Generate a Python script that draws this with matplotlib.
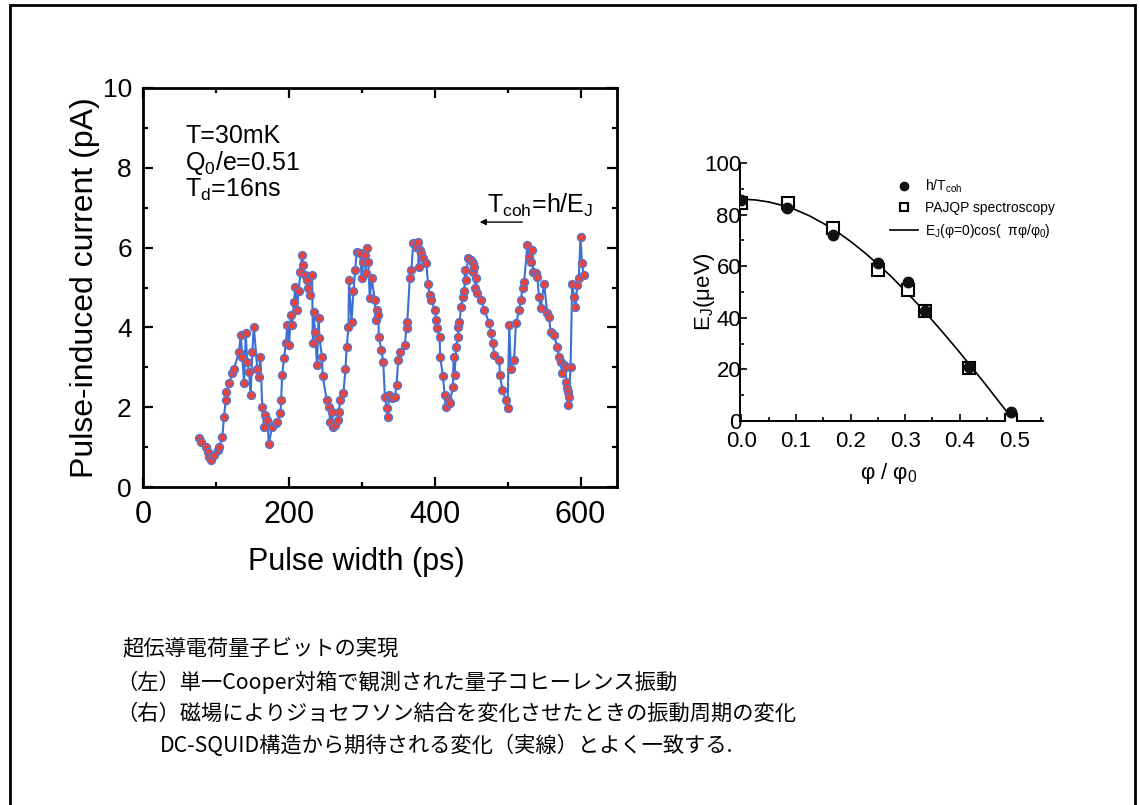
import matplotlib
matplotlib.use("Agg")
import matplotlib.pyplot as plt
from matplotlib.patches import Rectangle
from matplotlib.ticker import MultipleLocator, FormatStrFormatter

plt.rcParams["font.family"] = ["Liberation Sans", "DejaVu Sans"]
plt.rcParams["mathtext.fontset"] = "custom"
plt.rcParams["mathtext.rm"] = "Liberation Sans"
plt.rcParams["mathtext.it"] = "Liberation Sans:italic"

# left panel: pulse width (ps) vs pulse-induced current (pA)
pulse_width = [
    77.3, 79.5, 86.4, 88.6, 90.9, 93.2, 97.7, 102.3, 104.5, 109, 111, 113.6, 114.5,
    118, 122.7, 125, 131.8, 134, 136.4, 138.6, 140.9, 143, 145.5, 147.7, 150, 152,
    156.8, 159, 161, 163.6, 165.9, 168, 170.5, 172.7, 177, 181.8, 184, 188.6, 189.5,
    190.9, 193.5, 196, 198, 200.5, 202.5, 204.5, 207, 209, 211, 213.5, 216, 218,
    220, 222.7, 225, 226.5, 229.5, 232, 233, 234, 236, 238.6, 240.9, 242, 245.5,
    246.5, 252, 254.5, 257, 259, 261, 263, 268, 268.5, 270.5, 275, 277.7, 279.5,
    281.8, 282.5, 286, 288.6, 290.9, 293, 297.7, 300, 302, 304.5, 305.5, 306.8, 309,
    311, 313.6, 318, 319, 320.5, 322.7, 323.5, 327, 329.5, 331.8, 334, 336, 337,
    340.9, 345.5, 347.7, 350, 352, 359, 361.4, 362.5, 365.9, 368.2, 370.5, 375,
    377.3, 378, 379.5, 381.8, 384, 388.6, 390.9, 393, 395.5, 400, 402, 403, 406.8,
    407.5, 411.4, 413.6, 415.9, 418, 420.5, 425, 426, 427.3, 429.5, 431.8, 432.5,
    434, 436.4, 438.6, 440.9, 441.5, 443, 445.5, 450, 452.3, 453, 454.5, 455.5,
    456.8, 458, 463.6, 468, 475, 477.3, 479.5, 481.8, 488.6, 489.5, 493, 497.7, 500,
    502.3, 504.5, 509, 511.4, 515.9, 518, 520.5, 522.7, 527.3, 529.5, 531.8, 534,
    535, 538.6, 540.9, 543, 545.5, 550, 554.5, 556.8, 559, 563.6, 568, 570.5, 572.7,
    575, 577.3, 579.5, 580.5, 581.8, 582.5, 583, 584, 586.4, 588.6, 590.9, 593,
    595.5, 597.7, 600, 602, 604.5,
]
current = [
    1.22, 1.14, 1.01, 0.89, 0.76, 0.68, 0.80, 0.93, 1.01, 1.26, 1.76, 2.18, 2.39,
    2.60, 2.85, 2.97, 3.39, 3.81, 3.27, 2.60, 3.85, 3.14, 2.89, 2.31, 3.39, 4.02,
    2.97, 2.76, 3.27, 2.01, 1.51, 1.80, 1.68, 1.09, 1.51, 1.60, 1.64, 1.85, 2.18,
    2.81, 3.23, 3.60, 4.06, 3.56, 4.31, 4.06, 4.64, 5.02, 4.44, 4.90, 5.40, 5.81,
    5.56, 5.31, 5.19, 4.98, 4.81, 5.31, 3.60, 4.39, 3.89, 3.06, 4.23, 3.73, 3.27,
    2.77, 2.18, 2.01, 1.64, 1.89, 1.51, 1.55, 1.68, 1.89, 2.18, 2.35, 2.97, 3.52,
    4.02, 5.19, 4.14, 4.90, 5.44, 5.90, 5.86, 5.23, 5.65, 5.81, 5.36, 5.98, 5.65,
    4.73, 5.23, 4.69, 4.19, 4.44, 4.31, 3.77, 3.43, 3.14, 2.26, 1.97, 1.76, 2.31,
    2.22, 2.26, 2.56, 3.18, 3.39, 3.56, 3.98, 4.14, 5.23, 5.44, 6.11, 6.02,
    6.15, 5.52, 5.94, 5.86, 5.73, 5.61, 5.10, 4.81, 4.69, 4.44, 4.19, 3.98, 3.77,
    3.27, 2.77, 2.31, 2.01, 2.18, 2.10, 2.51, 3.27, 2.81, 3.52, 3.77, 4.02,
    4.14, 4.52, 4.77, 4.90, 5.44, 5.19, 5.73, 5.69, 5.61, 5.40, 5.52, 4.98,
    5.23, 4.85, 4.69, 4.44, 4.10, 3.85, 3.60, 3.31, 3.18, 2.81, 2.43, 2.18, 1.97,
    4.06, 2.97, 3.18, 4.10, 4.44, 4.69, 4.98, 5.15, 6.07, 5.77, 5.65, 5.94,
    5.40, 5.36, 5.27, 4.77, 4.48, 5.10, 4.35, 4.27, 3.89, 3.81, 3.52, 3.27, 3.14,
    2.85, 3.06, 3.02, 2.64, 2.47, 2.39, 2.06, 2.26, 3.02, 5.10, 4.77, 4.52,
    5.06, 5.23, 6.27, 5.61, 5.31,
]

# right panel: E_J vs flux
phi_coh = [0.0, 0.083, 0.167, 0.25, 0.306, 0.337, 0.418, 0.495]
ej_coh = [85.7, 82.4, 72.1, 61.1, 54.0, 42.5, 21.0, 3.6]
phi_pajqp = [0.0, 0.085, 0.167, 0.25, 0.306, 0.337, 0.418, 0.495]
ej_pajqp = [84.4, 84.4, 74.7, 58.5, 50.8, 42.5, 20.4, 0.3]
phi_fit = [0.0, 0.025, 0.05, 0.075, 0.1, 0.125, 0.15, 0.175, 0.2, 0.225, 0.25,
           0.275, 0.3, 0.325, 0.35, 0.375, 0.4, 0.425, 0.45, 0.475, 0.5]
ej_fit = [86.0, 85.7, 84.9, 83.6, 81.8, 79.5, 76.6, 73.4, 69.6, 65.4, 60.8,
          55.9, 50.5, 44.9, 39.0, 32.9, 26.6, 20.1, 13.5, 6.7, 0.0]

caption = [
    "超伝導電荷量子ビットの実現",
    "（左）単一Cooper対箱で観測された量子コヒーレンス振動",
    "（右）磁場によりジョセフソン結合を変化させたときの振動周期の変化",
    "DC-SQUID構造から期待される変化（実線）とよく一致する.",
]

fig = plt.figure(figsize=(11.4, 8.05), dpi=100)
fig.patch.set_facecolor("white")

# ---- left panel
ax = fig.add_axes([0.1254, 0.395, 0.4158, 0.4957])
ax.plot(pulse_width, current, "-o", color="#3a6fd4", lw=1.5,
        ms=5.8, mfc="#e8433c", mec="#4a78d8", mew=0.9)
ax.set_xlim(0, 650)
ax.set_ylim(0, 10)
ax.xaxis.set_major_locator(MultipleLocator(200))
ax.xaxis.set_minor_locator(MultipleLocator(100))
ax.yaxis.set_major_locator(MultipleLocator(2))
ax.yaxis.set_minor_locator(MultipleLocator(1))
ax.tick_params(which="both", direction="in", top=True, right=True, width=1.6)
ax.tick_params(which="major", length=7)
ax.tick_params(which="minor", length=3.5)
ax.tick_params(axis="x", labelsize=22, pad=9)
ax.tick_params(axis="y", labelsize=19, pad=8)
for s in ax.spines.values():
    s.set_linewidth(2)
ax.set_xlabel("Pulse width (ps)", fontsize=22)
ax.xaxis.set_label_coords(0.45, -0.15)
ax.set_ylabel("Pulse-induced current (pA)", fontsize=23)
ax.yaxis.set_label_coords(-0.09, 0.5)

ax.text(58, 8.8, "T=30mK", fontsize=18, va="center")
ax.text(58, 8.12, r"Q$_\mathregular{0}$/e=0.51", fontsize=18, va="center")
ax.text(58, 7.44, r"T$_\mathregular{d}$=16ns", fontsize=18, va="center")
ax.text(472, 7.05, r"T$_\mathregular{coh}$=h/E$_\mathregular{J}$", fontsize=18,
        va="center")
ax.annotate("", xy=(458, 6.64), xytext=(524, 6.64),
            arrowprops=dict(arrowstyle="-|>", color="black", lw=1.0,
                            mutation_scale=9))

# ---- right panel
ax2 = fig.add_axes([0.649, 0.477, 0.266, 0.3205])
ax2.plot(phi_fit, ej_fit, "-", color="black", lw=1.2,
         label=r"E$_\mathregular{J}$(φ=0)cos(  πφ/φ$_\mathregular{0}$)")
ax2.plot(phi_pajqp, ej_pajqp, "s", ms=8, mfc="white", mec="black", mew=1.5,
         label="PAJQP spectroscopy", zorder=3)
ax2.plot(phi_coh, ej_coh, "o", ms=7.5, color="#111111",
         label=r"h/T$_\mathregular{coh}$", zorder=4)
ax2.set_xlim(-0.003, 0.553)
ax2.set_ylim(0, 100)
ax2.xaxis.set_major_locator(MultipleLocator(0.1))
ax2.xaxis.set_minor_locator(MultipleLocator(0.05))
ax2.yaxis.set_major_locator(MultipleLocator(20))
ax2.yaxis.set_minor_locator(MultipleLocator(10))
ax2.spines["top"].set_visible(False)
ax2.spines["right"].set_visible(False)
for s in ("left", "bottom"):
    ax2.spines[s].set_linewidth(1.4)
ax2.tick_params(which="both", direction="in", width=1.2, labelsize=16)
ax2.tick_params(which="major", length=5)
ax2.tick_params(which="minor", length=3)
ax2.tick_params(axis="y", pad=-1)
ax2.tick_params(axis="x", pad=7)
ax2.xaxis.set_major_formatter(FormatStrFormatter("%.1f"))
ax2.set_xlabel(r"φ / φ$_\mathregular{0}$", fontsize=16)
ax2.xaxis.set_label_coords(0.49, -0.155)
ax2.set_ylabel(r"E$_\mathregular{J}$(μeV)", fontsize=16)
ax2.yaxis.set_label_coords(-0.075, 0.5)

h, l = ax2.get_legend_handles_labels()
ax2.legend([h[2], h[1], h[0]], [l[2], l[1], l[0]], loc="upper left",
           bbox_to_anchor=(0.775, 0.788), bbox_transform=fig.transFigure,
           frameon=False, fontsize=10, handlelength=2.0, handletextpad=0.5,
           labelspacing=0.45, borderpad=0, markerscale=0.8)

# ---- caption
ys = [648, 682, 714, 746]
xs = [122, 116, 116, 160]
for txt, x, y in zip(caption, xs, ys):
    fig.text(x / 1140, 1 - y / 805, txt, fontsize=15.3, va="center", ha="left",
             family=["Noto Sans CJK JP", "DejaVu Sans"])

# page frame
fig.add_artist(Rectangle((0.009, -0.01), 0.987, 1.004, transform=fig.transFigure,
                         fill=False, lw=2, color="black"))

fig.savefig("out.png", dpi=100)
